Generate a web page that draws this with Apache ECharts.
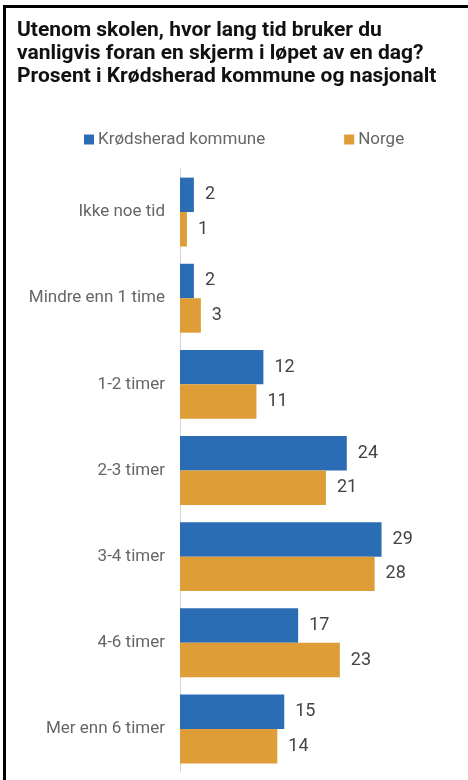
<!DOCTYPE html>
<html>
<head>
<meta charset="utf-8">
<style>
  html, body { margin: 0; padding: 0; background: #fff; }
  #chart { width: 468px; height: 780px; }
</style>
<script src="https://cdn.jsdelivr.net/npm/echarts@6/dist/echarts.min.js"></script>
</head>
<body>
<div id="chart"></div>
<script>
// Skjermtid utenom skolen, prosent
const categories = ['Ikke noe tid', 'Mindre enn 1 time', '1-2 timer', '2-3 timer', '3-4 timer', '4-6 timer', 'Mer enn 6 timer'];
const kommuneValues = [2, 2, 12, 24, 29, 17, 15];
const norgeValues = [1, 3, 11, 21, 28, 23, 14];
const seriesNames = ['Krødsherad kommune', 'Norge'];
const titleLines = [
  'Utenom skolen, hvor lang tid bruker du',
  'vanligvis foran en skjerm i løpet av en dag?',
  'Prosent i Krødsherad kommune og nasjonalt'
];

const FONT = 'Roboto, "Noto Sans", sans-serif';
const BLUE = '#2b6db4';
const ORANGE = '#de9d36';

const chart = echarts.init(document.getElementById('chart'), null, { renderer: 'canvas' });

const valueLabel = {
  show: true,
  position: 'right',
  distance: 11,
  color: '#444',
  fontFamily: FONT,
  fontSize: 18
};

chart.setOption({
  backgroundColor: '#fff',
  animation: false,
  title: {
    text: titleLines.join('\n'),
    left: 17,
    top: 19,
    padding: 0,
    textStyle: {
      fontFamily: FONT,
      fontWeight: 'bold',
      fontSize: 21,
      lineHeight: 23,
      color: '#111'
    }
  },
  legend: {
    left: 84,
    top: 131,
    padding: 0,
    itemWidth: 10,
    itemHeight: 10,
    itemGap: 79,
    icon: 'rect',
    textStyle: { fontFamily: FONT, fontSize: 17, color: '#666', padding: [0, 0, 0, -1] },
    data: seriesNames
  },
  graphic: [
    { type: 'rect', shape: { x: 3, y: 5, width: 465, height: 3 }, style: { fill: '#000' } },
    { type: 'rect', shape: { x: 3, y: 5, width: 3, height: 775 }, style: { fill: '#000' } }
  ],
  grid: { left: 180, right: 10, top: 169, bottom: 8, containLabel: false },
  xAxis: {
    type: 'value',
    min: 0,
    max: 40,
    show: false
  },
  yAxis: {
    type: 'category',
    inverse: true,
    data: categories,
    axisLine: { show: true, lineStyle: { color: '#d4d4d4', width: 1 } },
    axisTick: { show: false },
    axisLabel: { color: '#666', fontFamily: FONT, fontSize: 17, margin: 15 }
  },
  series: [
    {
      name: seriesNames[0],
      type: 'bar',
      data: kommuneValues,
      itemStyle: { color: BLUE },
      barGap: '0%',
      barCategoryGap: '20%',
      label: valueLabel
    },
    {
      name: seriesNames[1],
      type: 'bar',
      data: norgeValues,
      itemStyle: { color: ORANGE },
      barGap: '0%',
      barCategoryGap: '20%',
      label: valueLabel
    }
  ]
});
</script>
</body>
</html>
